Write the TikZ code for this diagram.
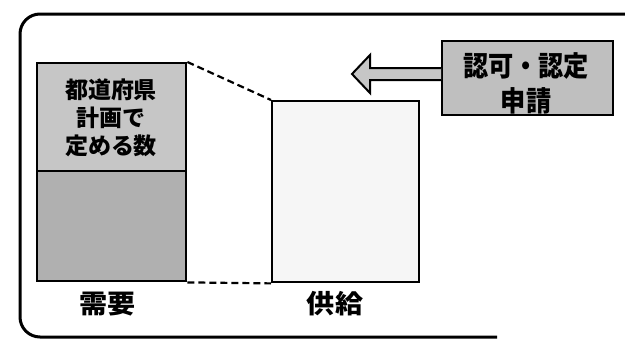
\documentclass[tikz,border=0pt]{standalone}
\usepackage{fontspec}
\newfontfamily\jp{Noto Sans CJK JP}
\begin{document}
\begin{tikzpicture}[x=1pt,y=-1pt,
  blk/.style={draw=black, line width=2.4pt, inner sep=0pt, anchor=north west},
  dashline/.style={line width=2.2pt, dash pattern=on 7pt off 4pt},
  lbl/.style={font=\jp\bfseries\fontsize{26}{30}\selectfont, xscale=1.08, inner sep=0pt},
  intext/.style={font=\jp\bfseries\fontsize{23}{28}\selectfont, align=center, inner sep=0pt},
  bigtext/.style={font=\jp\bfseries\fontsize{28}{35}\selectfont, align=center, inner sep=0pt, xscale=0.9}
]
\useasboundingbox (0,0) rectangle (625,340);
% outer frame
\draw[line width=3pt] (497,337) -- (40,337) arc[start angle=90, end angle=180, x radius=20pt, y radius=-20pt]
  -- (20,34) arc[start angle=180, end angle=270, x radius=20pt, y radius=-20pt] -- (625,14);
% demand boxes
\node[blk, fill=gray!45, minimum width=149pt, minimum height=108pt] (upper) at (36,62) {};
\node[blk, fill=gray!62, minimum width=149pt, minimum height=110pt] (lower) at (36,170) {};
\node[intext] (plantext) at (111,118) {都道府県\\計画で\\定める数};
% supply box
\node[blk, fill=gray!7, minimum width=147pt, minimum height=181pt] (supply) at (271,100) {};
% dashed links
\draw[dashline] (upper.north east) -- (supply.north west);
\draw[dashline] (lower.south east) -- (supply.south west);
% labels
\node[lbl] (demand) at (108,304) {需要};
\node[lbl] (kyokyu) at (335,304) {供給};
% application box
\node[blk, fill=gray!50, minimum width=171pt, minimum height=74pt] (ninka) at (441,40) {};
\node[bigtext] (ninkatext) at (526,83) {認可・認定\\申請};
% block arrow
\draw[line width=2pt, fill=gray!45, line join=miter]
  (ninka.west |- 0,68) -- (370,68) -- (370,55) -- (352,74) -- (370,93) -- (370,80) -- (ninka.west |- 0,80);
\end{tikzpicture}
\end{document}
